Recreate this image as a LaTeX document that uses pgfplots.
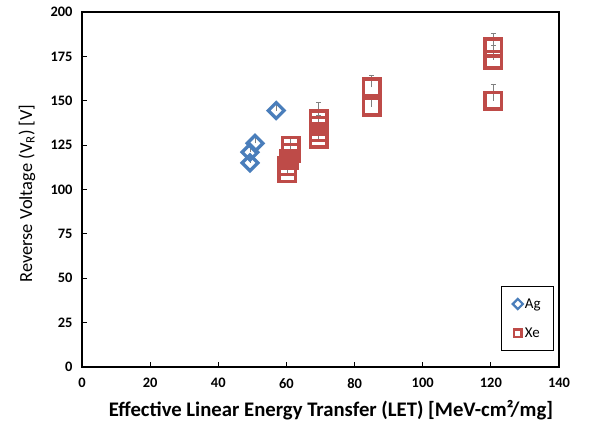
\documentclass[border=0pt]{standalone}
\usepackage{pgfplots}
\pgfplotsset{compat=1.18}
\usepackage{fontspec}
\setmainfont{Carlito}
\definecolor{agblue}{HTML}{4A7EBB}
\definecolor{xered}{HTML}{BE4B48}
\begin{document}
\begin{tikzpicture}
\begin{axis}[
  scale only axis, width=477bp, height=355bp,
  xmin=0, xmax=140, ymin=0, ymax=200,
  xtick={0,20,...,140}, ytick={0,25,...,200},
  tick pos=left, tick align=inside, major tick length=5bp,
  axis line style={line width=1.1pt, black},
  tick style={line width=0.8pt, black},
  /pgf/number format/assume math mode=true,
  ticklabel style={font=\fontsize{14.5}{16}\selectfont\bfseries},
  xticklabel style={yshift=-8bp},
  yticklabel style={xshift=-6bp},
  xlabel={Effective Linear Energy Transfer (LET) [MeV-cm²/mg]},
  ylabel={Reverse Voltage (V\textsubscript{R}) [V]},
  every axis x label/.style={at={(axis description cs:0.522,-0.121)}, anchor=center,
    font=\fontsize{20.8}{23}\selectfont\bfseries},
  every axis y label/.style={at={(axis description cs:-0.1153,0.489)}, rotate=90, anchor=center,
    font=\fontsize{18.5}{20}\selectfont},
  legend style={at={(1,0)}, anchor=south east, xshift=-5bp, yshift=16bp,
    draw=black, line width=0.8pt, font=\fontsize{15}{17}\selectfont,
    row sep=14bp, inner xsep=11bp, inner ysep=10bp},
  legend cell align=left,
  legend image code/.code={\draw[#1, mark size=3.6pt, line width=2.2pt] plot coordinates {(0.12cm,0cm)};},
]
\addplot+[only marks, color=agblue, line width=3.3pt, mark=square, mark size=5.6pt,
  mark options={rotate=45, fill=none},
  error bars/.cd, y dir=plus, y explicit,
  error bar style={line width=0.6pt, gray},
  error mark options={rotate=90, mark size=2.5pt, line width=0.6pt, gray}]
  coordinates {
  (50.8,126) +- (0,4)
  (49.3,121) +- (0,4)
  (49.3,115) +- (0,4)
  (57,144.5) +- (0,4)
};
\addlegendentry{Ag}
\addplot+[only marks, color=xered, line width=3.5pt, mark=square, mark size=8.3pt,
  mark options={fill=none},
  error bars/.cd, y dir=plus, y explicit,
  error bar style={line width=0.6pt, gray},
  error mark options={rotate=90, mark size=2.5pt, line width=0.6pt, gray}]
  coordinates {
  (61.2,124.5) +- (0,5)
  (61.2,120.7) +- (0,5)
  (60.8,116.9) +- (0,5)
  (60.2,113.1) +- (0,5)
  (60.2,109.3) +- (0,5)
  (69.5,139.5) +- (0,9.5)
  (69.5,135.8) +- (0,9.5)
  (69.5,132.2) +- (0,9.5)
  (69.5,128.5) +- (0,9.5)
  (85,157.5) +- (0,7)
  (85,146.5) +- (0,7)
  (120.7,180) +- (0,8)
  (120.7,173) +- (0,8)
  (120.7,150) +- (0,9.5)
};
\addlegendentry{Xe}
\end{axis}
\pgfresetboundingbox
\path[use as bounding box] ([shift={(-82bp,-59bp)}]current axis.south west) rectangle ([shift={(39bp,12bp)}]current axis.north east);
\end{tikzpicture}
\end{document}
